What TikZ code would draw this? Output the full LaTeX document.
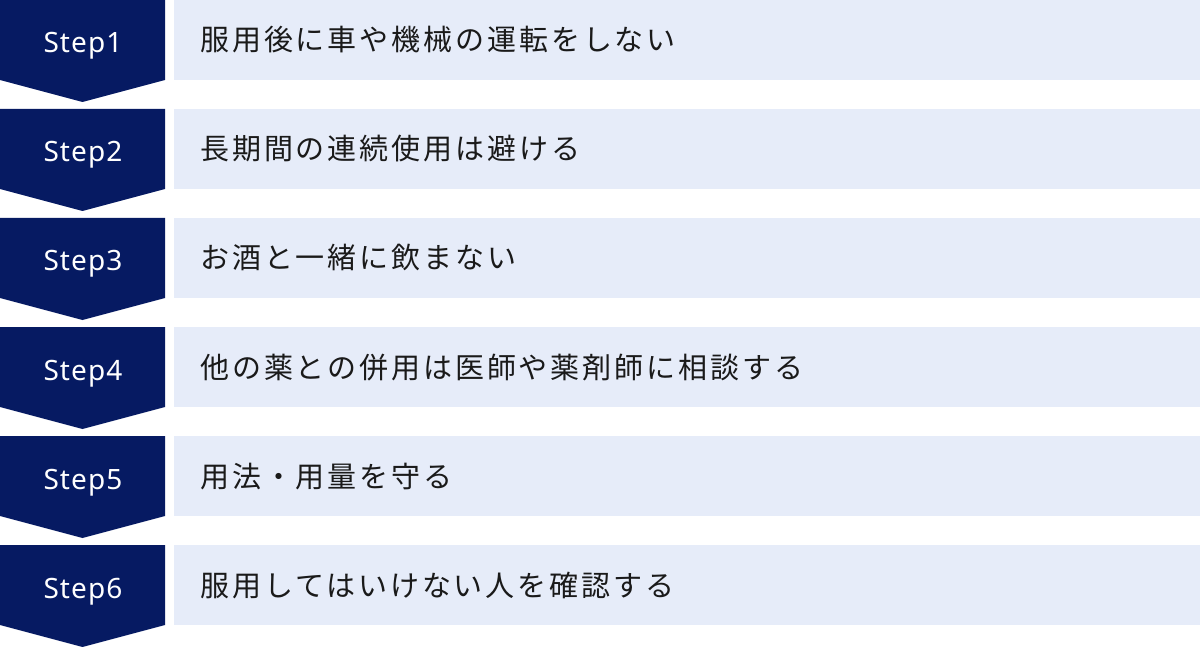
\documentclass[tikz,border=0pt]{standalone}
\usepackage{fontspec}
\setmainfont{Noto Sans CJK JP}[LetterSpace=10.0]
\newfontfamily\stepfont{Noto Sans}[LetterSpace=4.0]
\definecolor{navy}{HTML}{061A62}
\definecolor{pale}{HTML}{E6ECF9}
\definecolor{ink}{HTML}{1A1A1A}
\tikzset{
  stepshape/.style={fill=navy, draw=none},
  itembox/.style={fill=pale, draw=none},
  steplabel/.style={text=white, font=\stepfont\fontsize{28}{34}\selectfont, anchor=base, inner sep=0pt},
  itemlabel/.style={text=ink, font=\fontsize{29}{34}\selectfont, anchor=base west, inner sep=0pt},
}
\begin{document}
\begin{tikzpicture}[x=1pt,y=-1pt]
\useasboundingbox (0,0) rectangle (1200,647);
\foreach \i/\t in {1/服用後に車や機械の運転をしない,2/長期間の連続使用は避ける,3/お酒と一緒に飲まない,4/他の薬との併用は医師や薬剤師に相談する,5/用法・用量を守る,6/服用してはいけない人を確認する}{
  \pgfmathsetmacro{\yy}{(\i-1)*109}
  \fill[stepshape] (0,\yy) -- (165,\yy) -- (165,\yy+80) -- (82.5,\yy+102) -- (0,\yy+80) -- cycle;
  \fill[itembox] (174,\yy) rectangle (1200,\yy+80);
  \node[steplabel] (s\i) at (83,\yy+53) {Step\i};
  \node[itemlabel] (t\i) at (200,\yy+51) {\t};
}
\end{tikzpicture}
\end{document}
